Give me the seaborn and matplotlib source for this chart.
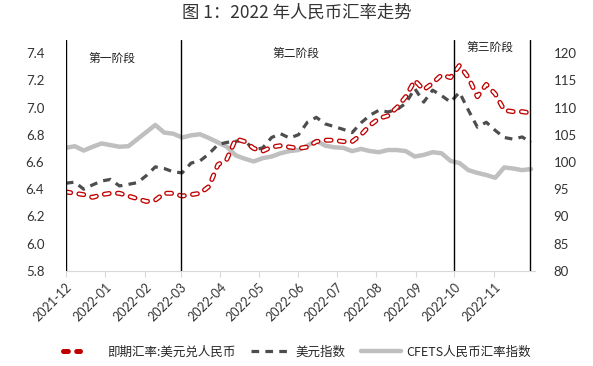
import pandas as pd
import matplotlib
matplotlib.use('Agg')
import matplotlib.pyplot as plt
import matplotlib.dates as mdates
from matplotlib.lines import Line2D
from matplotlib.legend_handler import HandlerTuple
import seaborn as sns

# weekly observations, 2021-12-01 .. 2022-11-30
dates = pd.date_range('2021-12-01', periods=53, freq='7D')

usdcny = [6.38, 6.37, 6.36, 6.34, 6.36, 6.37, 6.37, 6.35, 6.33, 6.31,
          6.32, 6.37, 6.37, 6.35, 6.36, 6.37, 6.42, 6.58, 6.62, 6.77,
          6.75, 6.70, 6.68, 6.71, 6.72, 6.71, 6.70, 6.71, 6.75, 6.76,
          6.76, 6.75, 6.75, 6.80, 6.87, 6.92, 6.94, 7.00, 7.08, 7.20,
          7.13, 7.18, 7.24, 7.22, 7.31, 7.22, 7.08, 7.17, 7.10, 6.98,
          6.97, 6.97, 6.96]

dxy = [96.1, 96.3, 95.0, 95.8, 96.5, 96.8, 95.6, 95.9, 96.2, 97.5,
       99.1, 98.8, 98.2, 98.0, 99.8, 100.2, 101.5, 103.2, 103.6, 103.8,
       104.0, 102.2, 102.6, 104.5, 105.2, 104.4, 105.0, 107.3, 108.2, 107.0,
       106.5, 106.0, 105.4, 107.2, 108.6, 109.5, 109.2, 109.6, 110.8, 113.5,
       111.0, 113.2, 112.2, 111.0, 112.8, 109.5, 106.4, 107.3, 105.8, 104.5,
       104.2, 104.6, 103.6]

cfets = [102.6, 102.9, 102.1, 102.8, 103.4, 103.1, 102.8, 102.9, 104.2, 105.5,
         106.8, 105.4, 105.2, 104.5, 104.9, 105.1, 104.4, 103.6, 102.8, 101.2,
         100.6, 100.1, 100.7, 101.0, 101.6, 102.0, 102.2, 103.0, 103.9, 103.0,
         102.7, 102.6, 102.0, 102.4, 102.0, 101.8, 102.2, 102.2, 102.0, 101.0,
         101.3, 101.8, 101.6, 100.2, 99.8, 98.5, 98.0, 97.6, 97.1, 99.0,
         98.8, 98.5, 98.7]

stage_lines = ['2021-12-01', '2022-03-01', '2022-10-01', '2022-11-29']
stage_names = ['第一阶段', '第二阶段', '第三阶段']
stage_label_dates = ['2022-01-06', '2022-05-30', '2022-10-29']

df = pd.DataFrame({'date': dates, 'usdcny': usdcny, 'dxy': dxy, 'cfets': cfets})

sns.set_style('white')
plt.rcParams['font.family'] = ['Lato', 'Noto Sans CJK SC', 'DejaVu Sans']
plt.rcParams['lines.scale_dashes'] = False

red = '#C00000'
dark = '#4D4D4D'
light = '#BFBFBF'
dash_red = (0, (3.5, 6.0))
dash_dark = (0, (5.5, 4.5))

fig = plt.figure(figsize=(5.93, 3.66), dpi=100)
ax = fig.add_axes([0.111, 0.26, 0.791, 0.632])
ax2 = ax.twinx()

# right axis series
sns.lineplot(data=df, x='date', y='cfets', ax=ax2, color=light, linewidth=3.2, zorder=1)
sns.lineplot(data=df, x='date', y='dxy', ax=ax2, color=dark, linewidth=2.3,
             linestyle=dash_dark, zorder=2)

# left axis series: hollow dashed red line (red outline + white core)
ax.set_zorder(ax2.get_zorder() + 1)
ax.patch.set_visible(False)
sns.lineplot(data=df, x='date', y='usdcny', ax=ax, color=red, linewidth=3.6,
             linestyle=dash_red, dash_capstyle='round', zorder=3)
sns.lineplot(data=df, x='date', y='usdcny', ax=ax, color='white', linewidth=1.7,
             linestyle=dash_red, dash_capstyle='round', zorder=4)

for d in stage_lines:
    ax.axvline(pd.Timestamp(d), color='black', linewidth=1.0, zorder=5)

for name, d, y in zip(stage_names, stage_label_dates, [7.36, 7.40, 7.44]):
    ax.text(pd.Timestamp(d), y, name, ha='center', va='center', fontsize=8.5,
            family=['Noto Sans CJK SC', 'DejaVu Sans'], color='#222222')

ax.set_ylim(5.8, 7.5)
ax.set_yticks([5.8, 6.0, 6.2, 6.4, 6.6, 6.8, 7.0, 7.2, 7.4])
ax.set_yticklabels([f'{v:.1f}' for v in ax.get_yticks()])
ax2.set_ylim(80, 122.5)
ax2.set_yticks(list(range(80, 121, 5)))

ax.set_xlim(pd.Timestamp('2021-12-01'), pd.Timestamp('2022-12-03'))
ax.xaxis.set_major_locator(mdates.MonthLocator())
ax.xaxis.set_major_formatter(mdates.DateFormatter('%Y-%m'))
ax.set_xticks(ax.get_xticks()[:12])
for lab in ax.get_xticklabels():
    lab.set_rotation(45)
    lab.set_ha('right')
    lab.set_rotation_mode('anchor')

for a in (ax, ax2):
    a.set_xlabel('')
    a.set_ylabel('')
    for s in a.spines.values():
        s.set_visible(False)
    a.grid(False)

ax.spines['bottom'].set_visible(True)
ax.spines['bottom'].set_color('#D9D9D9')
ax.tick_params(axis='x', bottom=True, length=4, color='#D9D9D9', labelsize=9,
               labelcolor='#333333', pad=3)
ax.tick_params(axis='y', left=False, labelsize=9.5, labelcolor='#333333', pad=12)
ax2.tick_params(axis='y', right=False, labelsize=9.5, labelcolor='#333333', pad=10)

fig.text(0.5, 0.965, '图 1：2022 年人民币汇率走势', ha='center', va='center',
         fontsize=12.5, family=['Noto Sans CJK SC', 'DejaVu Sans'], color='#333333')

h_red = (Line2D([], [], color=red, linewidth=3.6, linestyle=dash_red, dash_capstyle='round'),
         Line2D([], [], color='white', linewidth=1.7, linestyle=dash_red, dash_capstyle='round'))
h_dark = Line2D([], [], color=dark, linewidth=2.3, linestyle=dash_dark)
h_light = Line2D([], [], color=light, linewidth=3.2)
fig.legend([h_red, h_dark, h_light],
           ['即期汇率:美元兑人民币', '美元指数', 'CFETS人民币汇率指数'],
           handler_map={tuple: HandlerTuple(ndivide=None)},
           loc='center', bbox_to_anchor=(0.5, 0.038), ncol=3, frameon=False,
           handlelength=3.2, columnspacing=1.2, handletextpad=0.4,
           prop={'family': ['Noto Sans CJK SC', 'DejaVu Sans'], 'size': 9})

fig.savefig('out.png', dpi=100)
